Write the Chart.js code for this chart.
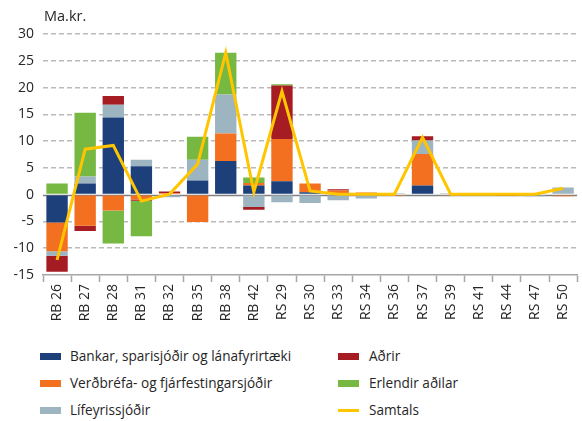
<!DOCTYPE html>
<html>
<head>
<meta charset="utf-8">
<script src="https://cdn.jsdelivr.net/npm/chart.js@4"></script>
<style>
body { margin: 0; background: #fff; font-family: "Open Sans", sans-serif; color: #262626; }
#wrap { position: relative; width: 582px; height: 421px; }
#box { position: absolute; left: 0; top: 0; width: 582px; height: 335px; }
#unit { position: absolute; left: 44px; top: 6px; font-size: 14.5px; }
.leg { position: absolute; font-size: 13.6px; line-height: 18px; white-space: nowrap; }
.sw { position: absolute; width: 21px; height: 7px; }
</style>
</head>
<body>
<div id="wrap">
  <div id="box"><canvas id="chart"></canvas></div>
  <div id="unit">Ma.kr.</div>
  <div id="legend"></div>
</div>
<script>
// flokkar (x-ás)
const labels = ['RB 26', 'RB 27', 'RB 28', 'RB 31', 'RB 32', 'RB 35', 'RB 38', 'RB 42', 'RS 29', 'RS 30',
                'RS 33', 'RS 34', 'RS 36', 'RS 37', 'RS 39', 'RS 41', 'RS 44', 'RS 47', 'RS 50'];

// gildi í ma.kr., lesin af myndinni
const bankar   = [-5.2, 2.1, 14.4, 5.3, 0, 2.65, 6.3, 1.7, 2.5, 0.45, 0, 0, 0, 1.7, 0, 0, 0, 0, 0.15];
const verdbref = [-5.35, -5.8, -2.95, -0.9, 0.3, -5.1, 5.1, 0.5, 7.9, 1.65, 0.8, 0.4, -0.25, 5.9, -0.2, 0, -0.1, 0.2, -0.3];
const lifeyris = [-0.85, 1.3, 2.4, 1.2, -0.5, 3.85, 7.3, -2.3, -1.4, -1.55, -1.05, -0.7, 0.25, 2.5, 0.25, 0, 0, -0.3, 1.2];
const adrir    = [-3.0, -1.0, 1.6, -0.25, 0.3, 0, 0, -0.5, 10.0, 0, 0.2, 0, 0, 0.8, 0, 0, -0.15, 0, 0];
const erlendir = [2.1, 11.9, -6.15, -6.6, 0, 4.3, 7.8, 1.0, 0.2, 0, 0, 0, 0, 0, 0, 0, 0, 0, 0];
const samtals  = [-12.2, 8.5, 9.2, -1.2, 0.1, 5.7, 26.5, 0.5, 19.3, 0.7, 0.1, 0.1, 0.1, 10.7, 0.1, 0.1, 0.1, 0.1, 1.2];

const yTicks = { min: -15, max: 30, step: 5 };

const series = [
    { label: 'Bankar, sparisjóðir og lánafyrirtæki', data: bankar, color: '#1d3f7a' },
    { label: 'Verðbréfa- og fjárfestingarsjóðir', data: verdbref, color: '#f47021' },
    { label: 'Lífeyrissjóðir', data: lifeyris, color: '#9db4c1' },
    { label: 'Aðrir', data: adrir, color: '#a51d23' },
    { label: 'Erlendir aðilar', data: erlendir, color: '#77b843' }
];
const lineColor = '#ffc600';

const datasets = series.map(s => ({
    type: 'bar',
    label: s.label,
    data: s.data,
    backgroundColor: s.color,
    borderWidth: 0,
    barPercentage: 1,
    categoryPercentage: 0.76,
    order: 1
}));
datasets.push({
    type: 'line',
    label: 'Samtals',
    data: samtals,
    borderColor: lineColor,
    borderWidth: 3,
    pointRadius: 0,
    tension: 0,
    fill: false,
    stack: 'samtals',
    order: 0
});

// heil lína við núll
const zeroLine = {
    id: 'zeroLine',
    beforeDatasetsDraw(chart) {
        const { ctx, chartArea, scales } = chart;
        const y = Math.round(scales.y.getPixelForValue(0)) + 0.5;
        ctx.save();
        ctx.strokeStyle = '#808080';
        ctx.lineWidth = 1.5;
        ctx.beginPath();
        ctx.moveTo(chartArea.left, y);
        ctx.lineTo(chartArea.right, y);
        ctx.stroke();
        ctx.restore();
    }
};

const ctx = document.getElementById('chart').getContext('2d');
const myChart = new Chart(ctx, {
    data: { labels: labels, datasets: datasets },
    plugins: [zeroLine],
    options: {
        responsive: true,
        maintainAspectRatio: false,
        animation: false,
        layout: { padding: { top: 34, right: 4, left: 0, bottom: 0 } },
        plugins: { legend: { display: false }, tooltip: { enabled: false } },
        scales: {
            x: {
                stacked: true,
                afterFit: scale => { scale.height = 60; },
                grid: { offset: true, drawOnChartArea: false, drawTicks: true, tickLength: 7, tickColor: '#a6a6a6', tickWidth: 1.5 },
                border: { color: '#a6a6a6', width: 1.5 },
                ticks: { autoSkip: false, minRotation: 90, maxRotation: 90, padding: 2, color: '#262626',
                         font: { family: 'Open Sans', size: 14 } }
            },
            y: {
                stacked: true,
                min: yTicks.min,
                max: yTicks.max,
                afterFit: scale => { scale.width = 43; },
                grid: {
                    drawTicks: false,
                    lineWidth: 1.6,
                    color: c => (c.tick.value === 0 || c.tick.value === yTicks.min) ? 'rgba(0,0,0,0)' : '#bababa'
                },
                border: { display: false, dash: [5, 3] },
                ticks: { stepSize: yTicks.step, padding: 9, color: '#262626', font: { family: 'Open Sans', size: 14 } }
            }
        }
    }
});

// skýringar í tveimur dálkum
const legendItems = series.map(s => ({ label: s.label, color: s.color, line: false }));
legendItems.push({ label: 'Samtals', color: lineColor, line: true });
const legendEl = document.getElementById('legend');
legendItems.forEach((item, i) => {
    const col = Math.floor(i / 3), row = i % 3;
    const cy = 356 + row * 27;
    const sx = col === 0 ? 40 : 338;
    const tx = col === 0 ? 70 : 369;
    const sw = document.createElement('div');
    sw.className = 'sw';
    sw.style.background = item.color;
    sw.style.left = sx + 'px';
    if (item.line) {
        sw.style.height = '3px';
        sw.style.top = (cy - 1.5) + 'px';
    } else {
        sw.style.top = (cy - 3.5) + 'px';
    }
    legendEl.appendChild(sw);
    const t = document.createElement('div');
    t.className = 'leg';
    t.textContent = item.label;
    t.style.left = tx + 'px';
    t.style.top = (cy - 9) + 'px';
    legendEl.appendChild(t);
});
</script>
</body>
</html>
